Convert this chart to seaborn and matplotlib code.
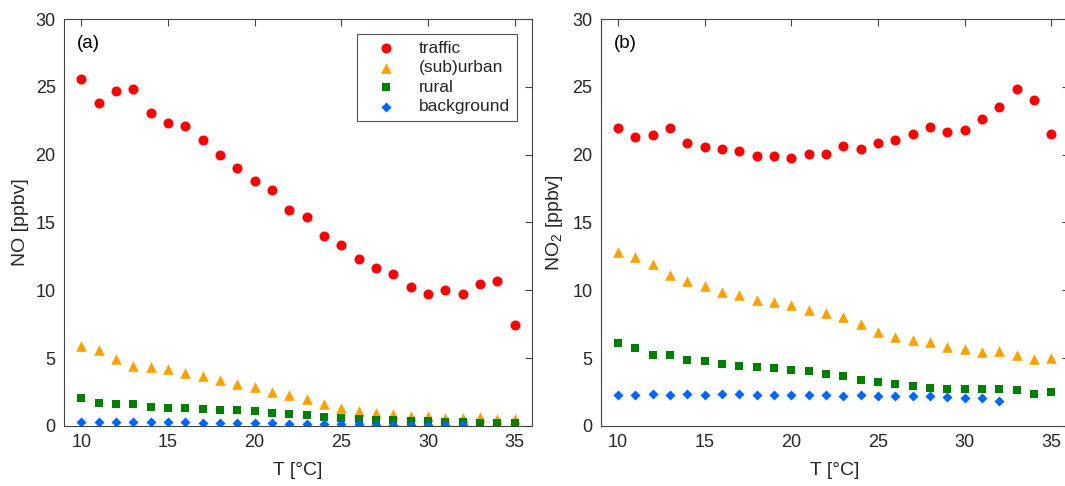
import matplotlib
import numpy as np
import pandas as pd

matplotlib.use("Agg")
import matplotlib.pyplot as plt
import seaborn as sns


TEMPS = list(range(10, 36))
TEMPS_BG = list(range(10, 33))

# panel (a): NO
NO_TRAFFIC = [25.6, 23.8, 24.7, 24.85, 23.1, 22.35, 22.1, 21.05, 19.97, 18.98, 18.08, 17.37, 15.92,
              15.43, 14.0, 13.34, 12.33, 11.65, 11.18, 10.24, 9.75, 10.0, 9.7, 10.46, 10.66, 7.47]
NO_URBAN = [5.92, 5.58, 4.94, 4.45, 4.35, 4.17, 3.9, 3.68, 3.36, 3.12, 2.87, 2.53, 2.31,
            1.99, 1.65, 1.35, 1.13, 0.96, 0.86, 0.76, 0.71, 0.61, 0.59, 0.64, 0.52, 0.52]
NO_RURAL = [2.06, 1.72, 1.6, 1.6, 1.4, 1.35, 1.33, 1.25, 1.18, 1.16, 1.08, 0.98, 0.86,
            0.79, 0.69, 0.59, 0.52, 0.44, 0.42, 0.37, 0.35, 0.32, 0.27, 0.25, 0.22, 0.2]
NO_BACKGROUND = [0.3, 0.3, 0.3, 0.3, 0.3, 0.28, 0.28, 0.25, 0.24, 0.22, 0.2, 0.2, 0.18,
                 0.16, 0.14, 0.12, 0.12, 0.1, 0.1, 0.08, 0.07, 0.07, 0.07]

# panel (b): NO2
NO2_TRAFFIC = [21.96, 21.3, 21.44, 21.98, 20.85, 20.56, 20.41, 20.27, 19.87, 19.92, 19.75, 20.07, 20.04,
               20.61, 20.39, 20.88, 21.1, 21.52, 22.06, 21.67, 21.8, 22.64, 23.5, 24.86, 24.0, 21.54]
NO2_URBAN = [12.84, 12.45, 11.92, 11.15, 10.69, 10.32, 9.9, 9.63, 9.29, 9.16, 8.94, 8.57, 8.33,
             8.01, 7.49, 6.93, 6.56, 6.36, 6.19, 5.84, 5.65, 5.43, 5.5, 5.2, 4.94, 5.03]
NO2_RURAL = [6.12, 5.75, 5.2, 5.2, 4.86, 4.77, 4.59, 4.42, 4.37, 4.3, 4.15, 4.05, 3.81,
             3.66, 3.39, 3.24, 3.07, 2.97, 2.8, 2.75, 2.75, 2.75, 2.73, 2.65, 2.34, 2.53]
NO2_BACKGROUND = [2.31, 2.31, 2.38, 2.31, 2.36, 2.31, 2.33, 2.33, 2.28, 2.28, 2.28, 2.31, 2.31,
                  2.23, 2.26, 2.19, 2.23, 2.23, 2.19, 2.14, 2.06, 2.06, 1.87]

SERIES_STYLE = [
    ("traffic", "o", "#ff0000", 52),
    ("(sub)urban", "^", "#ffa000", 58),
    ("rural", "s", "#008000", 28),
    ("background", "D", "#0066ff", 26),
]

AXIS_COLOR = "#444444"
TEXT_COLOR = "#262626"


def setup_style() -> None:
    sns.set_theme(style="white")
    plt.rcParams["font.family"] = ["Liberation Sans", "DejaVu Sans"]
    plt.rcParams["font.size"] = 12
    plt.rcParams["figure.facecolor"] = "white"
    plt.rcParams["axes.facecolor"] = "white"
    plt.rcParams["mathtext.fontset"] = "custom"
    plt.rcParams["mathtext.rm"] = "Liberation Sans"


def draw_panel(ax, values, ylabel, tag, show_legend):
    for (name, marker, color, size), yvals in zip(SERIES_STYLE, values):
        xvals = TEMPS if len(yvals) == len(TEMPS) else TEMPS_BG
        sns.scatterplot(x=xvals, y=yvals, marker=marker, color=color, s=size,
                        linewidth=0, label=name, ax=ax, legend=show_legend)

    ax.set_xlim(9, 36)
    ax.set_ylim(0, 30)
    ax.set_xticks(range(10, 36, 5))
    ax.set_yticks(range(0, 31, 5))
    ax.set_xlabel("T [°C]", fontsize=14, color=TEXT_COLOR, labelpad=8)
    ax.set_ylabel(ylabel, fontsize=14, color=TEXT_COLOR, labelpad=5)
    ax.tick_params(direction="in", length=5, width=0.8, colors=AXIS_COLOR,
                   labelcolor=TEXT_COLOR, labelsize=13, top=True, right=True, pad=6)
    for spine in ax.spines.values():
        spine.set_color(AXIS_COLOR)
        spine.set_linewidth(0.8)
    ax.text(0.028, 0.94, tag, transform=ax.transAxes, fontsize=13.5,
            color="black", ha="left", va="center")

    if show_legend:
        leg = ax.legend(loc="upper right", fontsize=12.5, frameon=True, fancybox=False,
                        edgecolor="#555555", framealpha=1, borderaxespad=0.85,
                        handlelength=2.6, handletextpad=0.6, labelspacing=0.25,
                        borderpad=0.4, scatterpoints=1)
        leg.get_frame().set_linewidth(0.8)
    else:
        if ax.get_legend() is not None:
            ax.get_legend().remove()


def main() -> None:
    setup_style()
    fig = plt.figure(figsize=(10.65, 4.86), dpi=100)
    ax_a = fig.add_axes([0.0601, 0.1235, 0.4394, 0.8374])
    ax_b = fig.add_axes([0.5641, 0.1235, 0.4394, 0.8374])

    draw_panel(ax_a, [NO_TRAFFIC, NO_URBAN, NO_RURAL, NO_BACKGROUND], "NO [ppbv]", "(a)", True)
    draw_panel(ax_b, [NO2_TRAFFIC, NO2_URBAN, NO2_RURAL, NO2_BACKGROUND], "NO$_2$ [ppbv]", "(b)", False)

    fig.savefig("out.png", dpi=100)
    plt.close(fig)


if __name__ == "__main__":
    main()
